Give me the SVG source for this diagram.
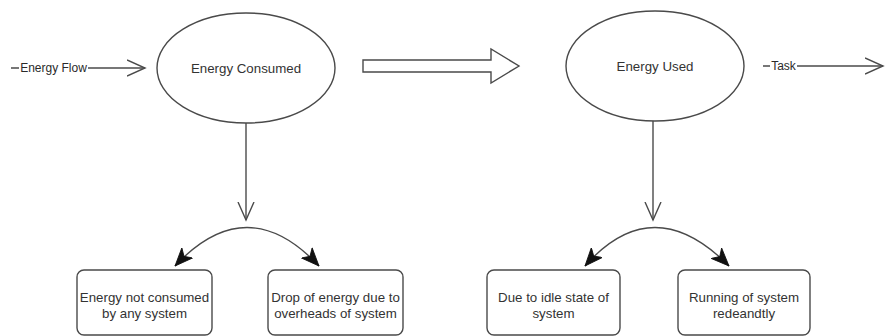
<svg xmlns="http://www.w3.org/2000/svg" width="885" height="336" viewBox="0 0 885 336">
  <style>
    .shape { fill: #ffffff; stroke: #4a4a4a; stroke-width: 1.4; }
    .line { fill: none; stroke: #4a4a4a; stroke-width: 1.4; }
    .txt { font-family: "Liberation Sans", Arial, sans-serif; font-size: 13.3px; fill: #333333; text-anchor: middle; }
    .lbl { font-family: "Liberation Sans", Arial, sans-serif; font-size: 12px; fill: #2a2a2a; text-anchor: middle; }
  </style>
  <defs>
    <marker id="open" markerUnits="userSpaceOnUse" markerWidth="20" markerHeight="20" refX="18" refY="9" orient="auto" viewBox="0 0 20 18">
      <path d="M0,1 L18,9 L0,17" fill="none" stroke="#4a4a4a" stroke-width="1.4"/>
    </marker>
    <marker id="solid" markerUnits="userSpaceOnUse" markerWidth="19" markerHeight="16" refX="17" refY="7" orient="auto-start-reverse" viewBox="0 0 18 14">
      <path d="M0,0 L17,7 L0,14 L4.5,7 z" fill="#111111" stroke="#111111" stroke-width="0.8"/>
    </marker>
  </defs>

  <g id="connectors">
    <line class="line" x1="11" y1="68" x2="145" y2="68" marker-end="url(#open)"/>
    <rect x="19" y="61" width="69" height="14" fill="#ffffff"/>
    <text class="lbl" x="53.5" y="72">Energy Flow</text>

    <line class="line" x1="763" y1="66" x2="883" y2="66" marker-end="url(#open)"/>
    <rect x="770" y="59" width="27" height="14" fill="#ffffff"/>
    <text class="lbl" x="783.5" y="70">Task</text>

    <polygon class="shape" points="363,60 491,60 491,49 519,66 491,83 491,72 363,72"/>

    <line class="line" x1="246" y1="123" x2="246" y2="220" marker-end="url(#open)"/>
    <path class="line" d="M175,266 Q247,189 319,266" marker-start="url(#solid)" marker-end="url(#solid)"/>

    <line class="line" x1="653" y1="121" x2="653" y2="220" marker-end="url(#open)"/>
    <path class="line" d="M585,266 Q653,189 729,266" marker-start="url(#solid)" marker-end="url(#solid)"/>
  </g>

  <g id="energy-consumed">
    <ellipse class="shape" cx="246" cy="68" rx="89" ry="55"/>
    <text class="txt" x="246" y="73">Energy Consumed</text>
  </g>

  <g id="energy-used">
    <ellipse class="shape" cx="655" cy="66" rx="89" ry="55"/>
    <text class="txt" x="655" y="71">Energy Used</text>
  </g>

  <g id="not-consumed">
    <rect class="shape" x="77" y="270" width="135" height="65" rx="7"/>
    <text class="txt" x="144.5" y="302">Energy not consumed</text>
    <text class="txt" x="144.5" y="318">by any system</text>
  </g>

  <g id="drop-of-energy">
    <rect class="shape" x="268" y="270" width="135" height="65" rx="7"/>
    <text class="txt" x="335.5" y="302">Drop of energy due to</text>
    <text class="txt" x="335.5" y="318">overheads of system</text>
  </g>

  <g id="idle-state">
    <rect class="shape" x="487" y="270" width="133" height="65" rx="7"/>
    <text class="txt" x="553.5" y="302">Due to idle state of</text>
    <text class="txt" x="553.5" y="318">system</text>
  </g>

  <g id="running-redundantly">
    <rect class="shape" x="678" y="270" width="132" height="65" rx="7"/>
    <text class="txt" x="744" y="302">Running of system</text>
    <text class="txt" x="744" y="318">redeandtly</text>
  </g>
</svg>
